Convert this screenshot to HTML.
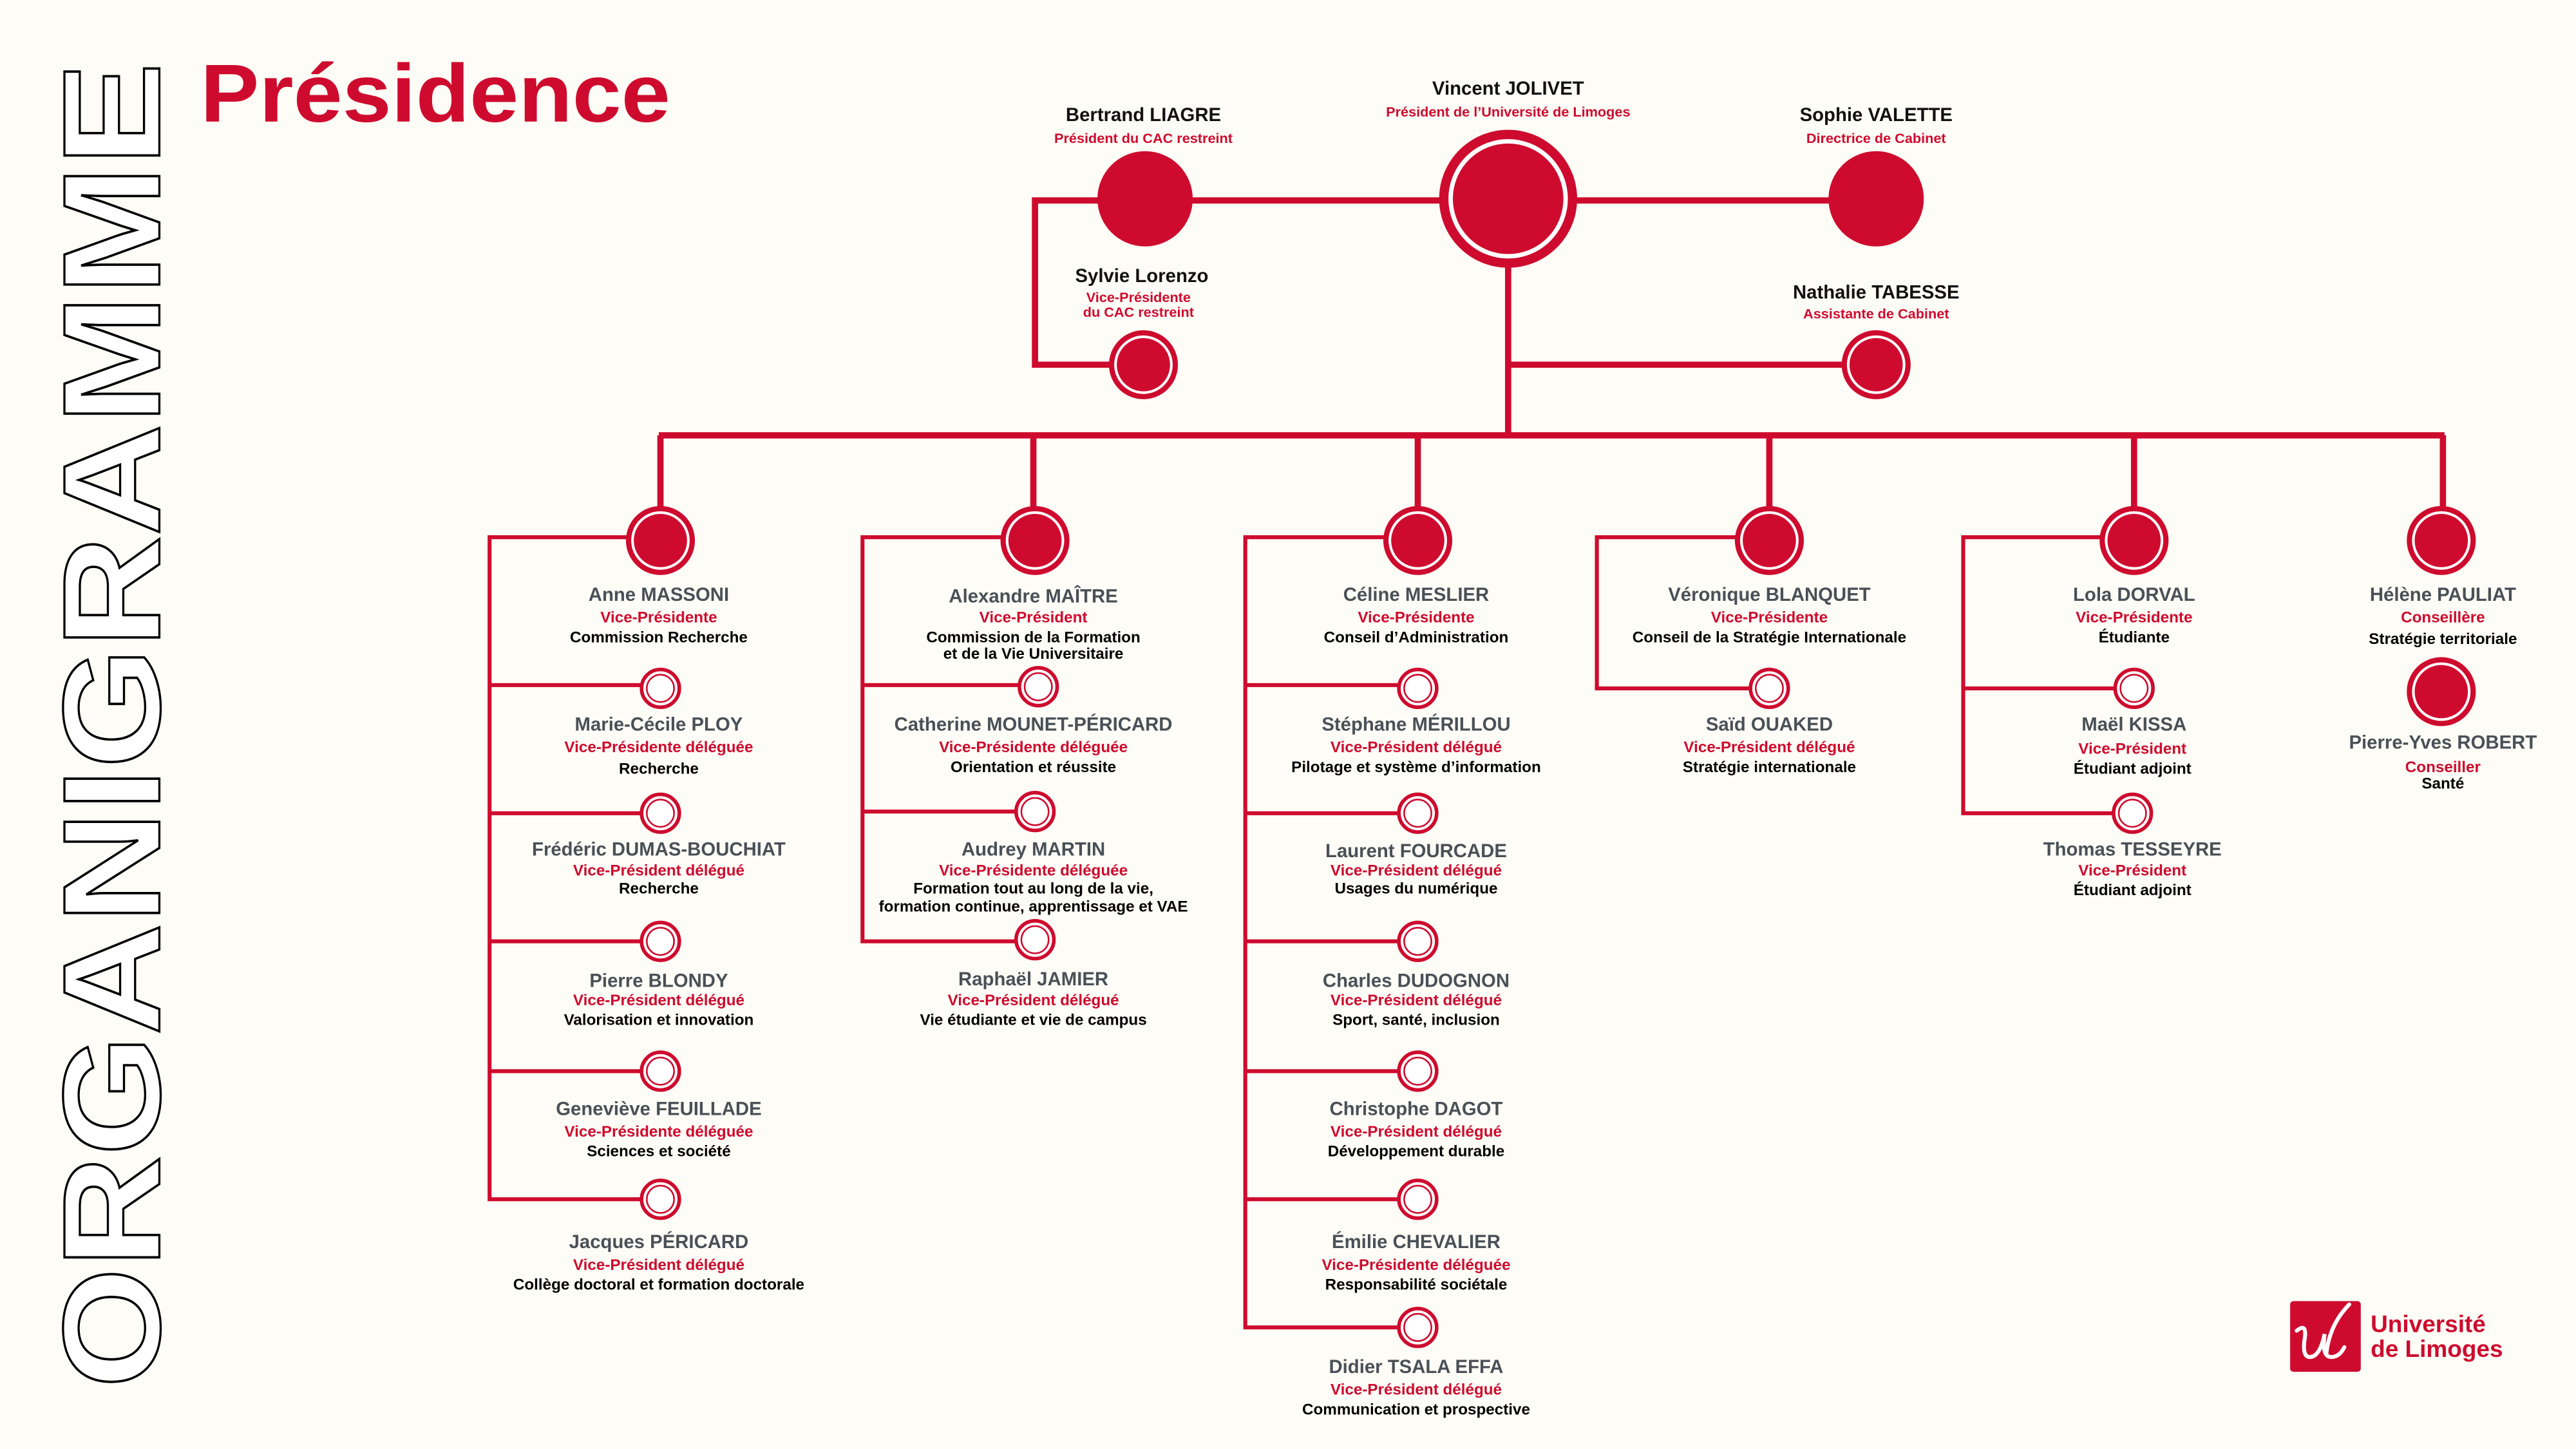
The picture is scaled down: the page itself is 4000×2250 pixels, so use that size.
<!DOCTYPE html>
<html><head><meta charset="utf-8"><style>
html,body{margin:0;padding:0;background:#FEFCF6;}
svg{display:block;}
text{font-family:"Liberation Sans",sans-serif;text-anchor:middle;dominant-baseline:central;}
.tn{font-size:11.5px;fill:#111;font-weight:bold;}
.n{font-size:11.5px;fill:#4a5057;font-weight:bold;}
.r{font-size:9.5px;fill:#CE0B2E;font-weight:bold;}
.d{font-size:9.5px;fill:#000;font-weight:bold;}
</style></head><body>
<svg width="4000" height="2250" viewBox="0 0 1568 882" xmlns="http://www.w3.org/2000/svg">
<rect width="1568" height="882" fill="#FEFCF6"/>
<defs>
<g id="big"><circle r="21" fill="#CE0B2E"/><circle r="17" fill="none" stroke="#fff" stroke-width="1.6"/></g>
<g id="sub"><circle r="11.5" fill="#fff" stroke="#CE0B2E" stroke-width="2.2"/><circle r="8.3" fill="none" stroke="#CE0B2E" stroke-width="1"/></g>
</defs>
<g transform="translate(97,845) rotate(-90)">
<text x="0" y="0" style="text-anchor:start;dominant-baseline:alphabetic;font-size:84px;font-weight:900;fill:#fff;stroke:#000;stroke-width:1.3" textLength="807" lengthAdjust="spacingAndGlyphs">ORGANIGRAMME</text>
</g>
<text x="122" y="74" style="text-anchor:start;dominant-baseline:alphabetic;font-size:50px;font-weight:900;fill:#CE0B2E" textLength="286" lengthAdjust="spacingAndGlyphs">Présidence</text>

<g stroke="#CE0B2E" fill="none" stroke-width="3.8">
<polyline points="670,122 630,122 630,222 680,222"/>
<line x1="697" y1="122" x2="1142" y2="122"/>
<line x1="918" y1="122" x2="918" y2="265"/>
<line x1="918" y1="222" x2="1130" y2="222"/>
<line x1="401" y1="265" x2="1488" y2="265"/>
<line x1="402" y1="265" x2="402" y2="312"/>
<line x1="629" y1="265" x2="629" y2="312"/>
<line x1="863" y1="265" x2="863" y2="312"/>
<line x1="1077" y1="265" x2="1077" y2="312"/>
<line x1="1299" y1="265" x2="1299" y2="312"/>
<line x1="1487" y1="265" x2="1487" y2="312"/>
</g>
<g stroke="#CE0B2E" fill="none" stroke-width="2.4">
<polyline points="390,327 298,327 298,730 395,730"/>
<line x1="298" y1="417" x2="395" y2="417"/>
<line x1="298" y1="495" x2="395" y2="495"/>
<line x1="298" y1="573" x2="395" y2="573"/>
<line x1="298" y1="652" x2="395" y2="652"/>
<polyline points="618,327 525,327 525,573 620,573"/>
<line x1="525" y1="417" x2="620" y2="417"/>
<line x1="525" y1="494" x2="620" y2="494"/>
<polyline points="850,327 758,327 758,808 855,808"/>
<line x1="758" y1="417" x2="855" y2="417"/>
<line x1="758" y1="495" x2="855" y2="495"/>
<line x1="758" y1="573" x2="855" y2="573"/>
<line x1="758" y1="652" x2="855" y2="652"/>
<line x1="758" y1="730" x2="855" y2="730"/>
<polyline points="1065,327 972,327 972,419 1070,419"/>
<polyline points="1287,327 1195,327 1195,495 1290,495"/>
<line x1="1195" y1="419" x2="1290" y2="419"/>
</g>

<circle cx="918" cy="121" r="42" fill="#CE0B2E"/>
<circle cx="918" cy="121" r="35" fill="none" stroke="#fff" stroke-width="2.7"/>
<circle cx="697" cy="121" r="29" fill="#CE0B2E"/>
<circle cx="1142" cy="121" r="29" fill="#CE0B2E"/>
<use href="#big" x="696" y="222"/>
<use href="#big" x="1142" y="222"/>

<text class="tn" x="918" y="54">Vincent JOLIVET</text>
<text class="r" x="918" y="68" style="font-size:8.5px">Président de l’Université de Limoges</text>
<text class="tn" x="696" y="70">Bertrand LIAGRE</text>
<text class="r" x="696" y="84" style="font-size:8.5px">Président du CAC restreint</text>
<text class="tn" x="1142" y="70">Sophie VALETTE</text>
<text class="r" x="1142" y="84" style="font-size:8.5px">Directrice de Cabinet</text>
<text class="tn" x="695" y="168">Sylvie Lorenzo</text>
<text class="r" x="693" y="181" style="font-size:8.5px">Vice-Présidente</text>
<text class="r" x="693" y="190" style="font-size:8.5px">du CAC restreint</text>
<text class="tn" x="1142" y="178">Nathalie TABESSE</text>
<text class="r" x="1142" y="191" style="font-size:8.5px">Assistante de Cabinet</text>

<use href="#big" x="402" y="329"/>
<use href="#big" x="630" y="329"/>
<use href="#big" x="863" y="329"/>
<use href="#big" x="1077" y="329"/>
<use href="#big" x="1299" y="329"/>
<use href="#big" x="1486" y="329"/>
<use href="#big" x="1486" y="421"/>

<use href="#sub" x="402" y="419"/><use href="#sub" x="402" y="495"/><use href="#sub" x="402" y="573"/><use href="#sub" x="402" y="652"/><use href="#sub" x="402" y="730"/>
<use href="#sub" x="632" y="418"/><use href="#sub" x="630" y="494"/><use href="#sub" x="630" y="572"/>
<use href="#sub" x="863" y="419"/><use href="#sub" x="863" y="495"/><use href="#sub" x="863" y="573"/><use href="#sub" x="863" y="652"/><use href="#sub" x="863" y="730"/><use href="#sub" x="863" y="808"/>
<use href="#sub" x="1077" y="419"/>
<use href="#sub" x="1299" y="419"/><use href="#sub" x="1298" y="495"/>

<text class="n" x="401" y="362">Anne MASSONI</text><text class="r" x="401" y="376">Vice-Présidente</text><text class="d" x="401" y="388">Commission Recherche</text>
<text class="n" x="401" y="441">Marie-Cécile PLOY</text><text class="r" x="401" y="455">Vice-Présidente déléguée</text><text class="d" x="401" y="468">Recherche</text>
<text class="n" x="401" y="517">Frédéric DUMAS-BOUCHIAT</text><text class="r" x="401" y="530">Vice-Président délégué</text><text class="d" x="401" y="541">Recherche</text>
<text class="n" x="401" y="597">Pierre BLONDY</text><text class="r" x="401" y="609">Vice-Président délégué</text><text class="d" x="401" y="621">Valorisation et innovation</text>
<text class="n" x="401" y="675">Geneviève FEUILLADE</text><text class="r" x="401" y="689">Vice-Présidente déléguée</text><text class="d" x="401" y="701">Sciences et société</text>
<text class="n" x="401" y="756">Jacques PÉRICARD</text><text class="r" x="401" y="770">Vice-Président délégué</text><text class="d" x="401" y="782">Collège doctoral et formation doctorale</text>
<text class="n" x="629" y="363">Alexandre MAÎTRE</text><text class="r" x="629" y="376">Vice-Président</text><text class="d" x="629" y="388">Commission de la Formation</text><text class="d" x="629" y="398">et de la Vie Universitaire</text>
<text class="n" x="629" y="441">Catherine MOUNET-PÉRICARD</text><text class="r" x="629" y="455">Vice-Présidente déléguée</text><text class="d" x="629" y="467">Orientation et réussite</text>
<text class="n" x="629" y="517">Audrey MARTIN</text><text class="r" x="629" y="530">Vice-Présidente déléguée</text><text class="d" x="629" y="541">Formation tout au long de la vie,</text><text class="d" x="629" y="552">formation continue, apprentissage et VAE</text>
<text class="n" x="629" y="596">Raphaël JAMIER</text><text class="r" x="629" y="609">Vice-Président délégué</text><text class="d" x="629" y="621">Vie étudiante et vie de campus</text>
<text class="n" x="862" y="362">Céline MESLIER</text><text class="r" x="862" y="376">Vice-Présidente</text><text class="d" x="862" y="388">Conseil d’Administration</text>
<text class="n" x="862" y="441">Stéphane MÉRILLOU</text><text class="r" x="862" y="455">Vice-Président délégué</text><text class="d" x="862" y="467">Pilotage et système d’information</text>
<text class="n" x="862" y="518">Laurent FOURCADE</text><text class="r" x="862" y="530">Vice-Président délégué</text><text class="d" x="862" y="541">Usages du numérique</text>
<text class="n" x="862" y="597">Charles DUDOGNON</text><text class="r" x="862" y="609">Vice-Président délégué</text><text class="d" x="862" y="621">Sport, santé, inclusion</text>
<text class="n" x="862" y="675">Christophe DAGOT</text><text class="r" x="862" y="689">Vice-Président délégué</text><text class="d" x="862" y="701">Développement durable</text>
<text class="n" x="862" y="756">Émilie CHEVALIER</text><text class="r" x="862" y="770">Vice-Présidente déléguée</text><text class="d" x="862" y="782">Responsabilité sociétale</text>
<text class="n" x="862" y="832">Didier TSALA EFFA</text><text class="r" x="862" y="846">Vice-Président délégué</text><text class="d" x="862" y="858">Communication et prospective</text>
<text class="n" x="1077" y="362">Véronique BLANQUET</text><text class="r" x="1077" y="376">Vice-Présidente</text><text class="d" x="1077" y="388">Conseil de la Stratégie Internationale</text>
<text class="n" x="1077" y="441">Saïd OUAKED</text><text class="r" x="1077" y="455">Vice-Président délégué</text><text class="d" x="1077" y="467">Stratégie internationale</text>
<text class="n" x="1299" y="362">Lola DORVAL</text><text class="r" x="1299" y="376">Vice-Présidente</text><text class="d" x="1299" y="388">Étudiante</text>
<text class="n" x="1299" y="441">Maël KISSA</text><text class="r" x="1298" y="456">Vice-Président</text><text class="d" x="1298" y="468">Étudiant adjoint</text>
<text class="n" x="1298" y="517">Thomas TESSEYRE</text><text class="r" x="1298" y="530">Vice-Président</text><text class="d" x="1298" y="542">Étudiant adjoint</text>
<text class="n" x="1487" y="362">Hélène PAULIAT</text><text class="r" x="1487" y="376">Conseillère</text><text class="d" x="1487" y="389">Stratégie territoriale</text>
<text class="n" x="1487" y="452">Pierre-Yves ROBERT</text><text class="r" x="1487" y="467">Conseiller</text><text class="d" x="1487" y="477">Santé</text>

<rect x="1394" y="792" width="43" height="43" rx="2" fill="#CE0B2E"/>
<path d="M1398 810 q6-5 5 4 q-2 12 3 12 q6 0 9-14 q-2 14 4 14 q5 0 8-6 M1416 824 q2-18 14-30" stroke="#fff" stroke-width="2.4" fill="none" stroke-linecap="round"/>
<text x="1443" y="806" style="text-anchor:start;font-size:14.5px;font-weight:bold;fill:#CE0B2E">Université</text>
<text x="1443" y="821" style="text-anchor:start;font-size:14.5px;font-weight:bold;fill:#CE0B2E">de Limoges</text>
</svg>
</body></html>
